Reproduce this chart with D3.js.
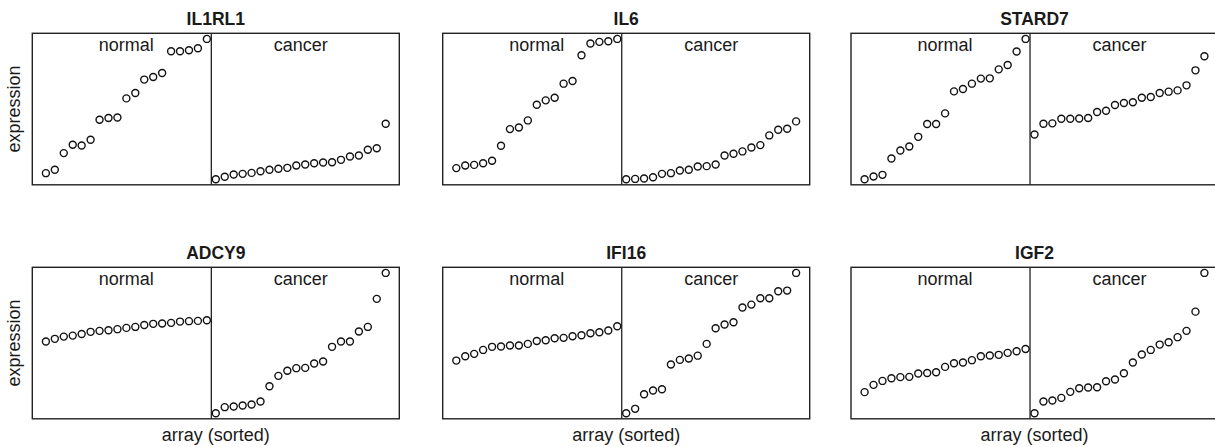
<!DOCTYPE html>
<html>
<head>
<meta charset="utf-8">
<script src="https://cdn.jsdelivr.net/npm/d3@7"></script>
<style>
  html, body { margin: 0; padding: 0; background: #fff; }
  svg { display: block; font-family: "Liberation Sans", Arial, Helvetica, sans-serif; }
</style>
</head>
<body>
<svg id="chart" width="1215" height="447"></svg>
<script>
// ---- data (arbitrary expression units) ----
const genes = ["IL1RL1", "IL6", "STARD7", "ADCY9", "IFI16", "IGF2"];
const groupLabels = ["normal", "cancer"];
const yAxisLabel = "expression";
const xAxisLabel = "array (sorted)";

const il1rl1Normal = [0.43, 0.67, 1.86, 2.45, 2.40, 2.81, 4.24, 4.36, 4.40, 5.76, 6.14, 7.10, 7.29, 7.57, 9.12, 9.12, 9.19, 9.33, 10.0];
const il1rl1Cancer = [0.00, 0.17, 0.33, 0.38, 0.45, 0.57, 0.67, 0.74, 0.81, 0.98, 1.05, 1.14, 1.19, 1.21, 1.38, 1.62, 1.69, 2.10, 2.21, 3.95];

const il6Normal = [0.79, 0.98, 1.02, 1.14, 1.31, 2.38, 3.57, 3.69, 4.19, 5.31, 5.62, 5.81, 6.81, 7.00, 8.83, 9.67, 9.79, 9.83, 10.0];
const il6Cancer = [0.00, 0.02, 0.05, 0.14, 0.38, 0.43, 0.62, 0.67, 0.90, 0.93, 1.05, 1.69, 1.81, 1.98, 2.26, 2.43, 3.12, 3.52, 3.60, 4.12];

const stard7Normal = [0.00, 0.19, 0.31, 1.48, 2.05, 2.33, 3.02, 3.93, 3.93, 4.69, 6.26, 6.43, 6.81, 7.17, 7.19, 7.83, 8.14, 9.10, 10.0];
const stard7Cancer = [3.19, 3.95, 3.98, 4.31, 4.31, 4.33, 4.36, 4.79, 4.88, 5.29, 5.43, 5.48, 5.81, 5.86, 6.14, 6.24, 6.33, 6.69, 7.76, 8.76];

const adcy9Normal = [5.11, 5.30, 5.46, 5.53, 5.65, 5.80, 5.87, 5.91, 5.99, 6.08, 6.15, 6.29, 6.37, 6.39, 6.44, 6.53, 6.56, 6.58, 6.63];
const adcy9Cancer = [0.00, 0.43, 0.48, 0.55, 0.62, 0.83, 1.92, 2.66, 3.02, 3.21, 3.23, 3.54, 3.68, 4.73, 5.11, 5.11, 5.82, 6.15, 8.15, 10.0];

const ifi16Normal = [3.75, 4.06, 4.23, 4.51, 4.73, 4.75, 4.82, 4.82, 4.94, 5.15, 5.20, 5.34, 5.37, 5.49, 5.56, 5.70, 5.77, 5.89, 6.20];
const ifi16Cancer = [0.00, 0.31, 1.35, 1.62, 1.71, 3.47, 3.80, 3.90, 4.10, 4.94, 6.06, 6.32, 6.48, 7.53, 7.74, 8.19, 8.19, 8.69, 8.74, 10.0];

const igf2Normal = [1.50, 2.02, 2.30, 2.49, 2.57, 2.59, 2.83, 2.87, 2.92, 3.30, 3.56, 3.61, 3.78, 4.06, 4.11, 4.16, 4.30, 4.42, 4.58];
const igf2Cancer = [0.00, 0.83, 0.90, 1.09, 1.52, 1.78, 1.83, 1.85, 2.28, 2.40, 2.85, 3.61, 4.18, 4.51, 4.89, 5.06, 5.42, 5.87, 7.24, 10.0];

const normalSeries = [il1rl1Normal, il6Normal, stard7Normal, adcy9Normal, ifi16Normal, igf2Normal];
const cancerSeries = [il1rl1Cancer, il6Cancer, stard7Cancer, adcy9Cancer, ifi16Cancer, igf2Cancer];

// ---- layout ----
const colLeft = [32.3, 442.7, 851];
const rowTop = [33.3, 267.3];
const panelW = 367;
const panelH = 151.5;

const svg = d3.select("#chart");

genes.forEach((gene, gi) => {
  const col = gi % 3, row = Math.floor(gi / 3);
  const x0 = colLeft[col], y0 = rowTop[row];
  const nN = normalSeries[gi].length, nC = cancerSeries[gi].length;
  const nAll = nN + nC;
  const pts = normalSeries[gi].map((v, i) => ({ idx: i + 1, v }))
    .concat(cancerSeries[gi].map((v, i) => ({ idx: nN + i + 1, v })));

  const padX = 0.04 * (nAll - 1);
  const x = d3.scaleLinear().domain([1 - padX, nAll + padX]).range([0, panelW]);
  const ext = d3.extent(pts, d => d.v);
  const padY = 0.04 * (ext[1] - ext[0]);
  const y = d3.scaleLinear().domain([ext[0] - padY, ext[1] + padY]).range([panelH, 0]);

  const g = svg.append("g").attr("transform", `translate(${x0},${y0})`);

  // title
  g.append("text")
    .attr("x", panelW / 2).attr("y", -8.5)
    .attr("text-anchor", "middle")
    .attr("font-weight", "bold")
    .attr("font-size", 17.5)
    .attr("fill", "#1a1a1a")
    .text(gene);

  // group labels
  const centers = [(1 + nN) / 2, (nN + 1 + nAll) / 2];
  groupLabels.forEach((lab, li) => {
    g.append("text")
      .attr("x", x(centers[li])).attr("y", 17.4)
      .attr("text-anchor", "middle")
      .attr("font-size", 18)
      .attr("fill", "#1a1a1a")
      .text(lab);
  });

  // divider
  g.append("line")
    .attr("x1", x(nN + 0.5)).attr("x2", x(nN + 0.5))
    .attr("y1", 0).attr("y2", panelH)
    .attr("stroke", "#222").attr("stroke-width", 1.3);

  // points
  g.selectAll("circle.pt").data(pts).join("circle")
    .attr("class", "pt")
    .attr("cx", d => x(d.idx))
    .attr("cy", d => y(d.v))
    .attr("r", 3.5)
    .attr("fill", "none")
    .attr("stroke", "#111")
    .attr("stroke-width", 1.4);

  // frame
  g.append("rect")
    .attr("x", 0).attr("y", 0).attr("width", panelW).attr("height", panelH)
    .attr("fill", "none").attr("stroke", "#222").attr("stroke-width", 1.4);

  if (col === 0) {
    g.append("text")
      .attr("transform", `translate(${19.5 - x0},${panelH / 2}) rotate(-90)`)
      .attr("text-anchor", "middle")
      .attr("font-size", 18)
      .attr("fill", "#1a1a1a")
      .text(yAxisLabel);
  }
  if (row === 1) {
    g.append("text")
      .attr("x", panelW / 2).attr("y", panelH + 22)
      .attr("text-anchor", "middle")
      .attr("font-size", 18)
      .attr("fill", "#1a1a1a")
      .text(xAxisLabel);
  }
});
</script>
</body>
</html>
